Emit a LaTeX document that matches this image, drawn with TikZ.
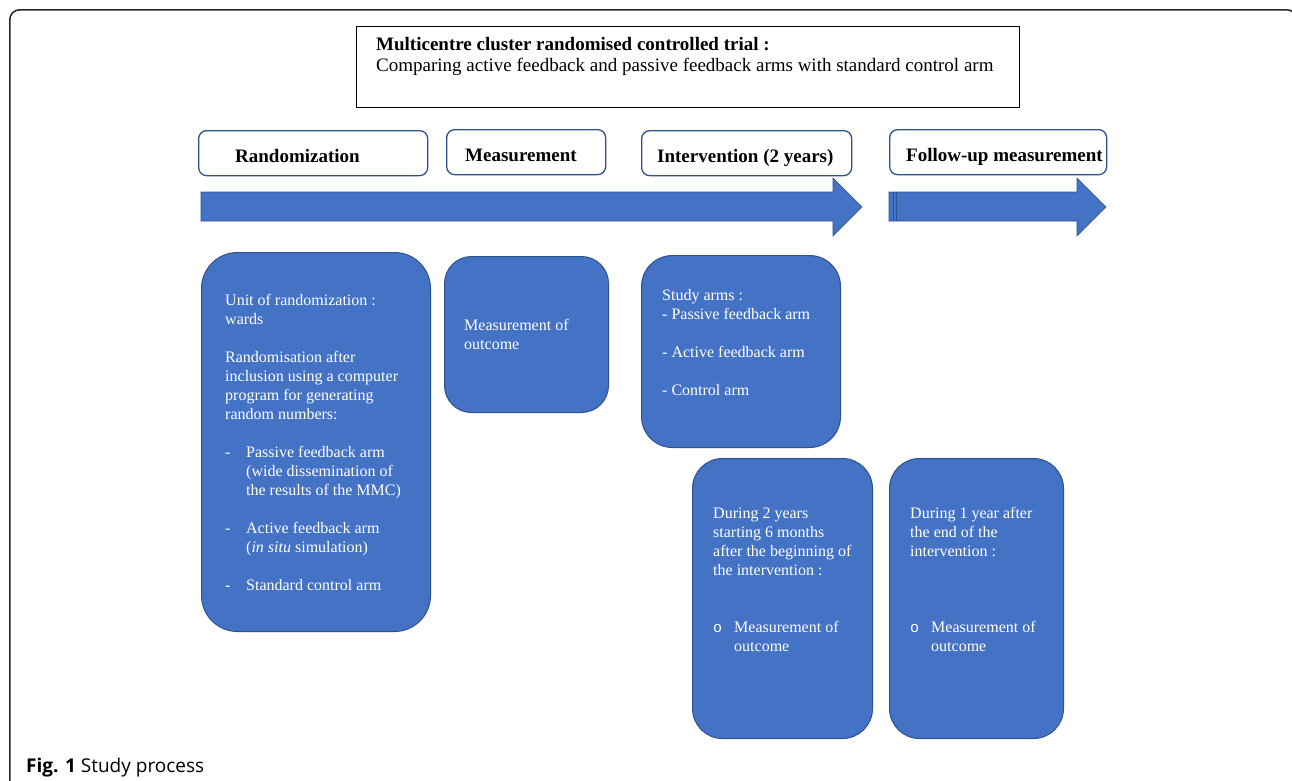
\documentclass[tikz,border=0pt]{standalone}
\usepackage{fontspec}
\setmainfont{Liberation Serif}
\newfontfamily\capfont{Open Sans}
\newfontfamily\monofnt{Liberation Mono}
\definecolor{officeblue}{HTML}{4472C4}
\definecolor{edgeblue}{HTML}{2F528F}
\newcommand{\circbullet}{\makebox[21pt][l]{{\monofnt\fontsize{15}{19}\selectfont o}}}
\begin{document}
\begin{tikzpicture}[x=1pt,y=-1pt,
  bluebox/.style={draw=edgeblue, line width=1pt, fill=officeblue, anchor=north west, inner sep=0pt},
  headbox/.style={draw=edgeblue, line width=1.3pt, fill=white, rounded corners=8pt, anchor=north west, inner sep=0pt},
  headtext/.style={anchor=base west, inner sep=0pt, font=\fontsize{19}{22}\selectfont\bfseries},
  bodytext/.style={anchor=base west, inner sep=0pt, text=white, font=\fontsize{16}{19}\selectfont},
  arrowshape/.style={fill=officeblue, draw=edgeblue, line width=0.6pt, line join=miter}
]
\useasboundingbox (0,0) rectangle (1292,780);
\clip (0,0) rectangle (1292,780);
\fill[white] (0,0) rectangle (1292,780);

% outer frame
\node[draw=black!85, line width=1.5pt, rounded corners=10pt, anchor=north west, inner sep=0pt,
      minimum width=1287pt, minimum height=820pt] (frame) at (9,9) {};

% title box
\node[draw=black, line width=1.2pt, anchor=north west, inner sep=0pt,
      minimum width=663pt, minimum height=81pt] (title) at (356,26) {};
\node[anchor=base west, inner sep=0pt, font=\fontsize{19}{21}\selectfont] (titletext) at (376,50)
  {\parbox[t]{640pt}{\raggedright\textbf{Multicentre cluster randomised controlled trial :}\\
   Comparing active feedback and passive feedback arms with standard control arm}};

% header boxes
\node[headbox, minimum width=229pt, minimum height=45pt] (hRand) at (198,130) {};
\node[headbox, minimum width=159pt, minimum height=45pt] (hMeas) at (446,129) {};
\node[headbox, minimum width=210pt, minimum height=45pt] (hInt) at (641,130) {};
\node[headbox, minimum width=217pt, minimum height=45pt] (hFol) at (889,129) {};
\node[headtext] (hRandT) at (235,162) {Randomization};
\node[headtext] (hMeasT) at (465,161) {Measurement};
\node[headtext] (hIntT) at (657,162) {Intervention (2 years)};
\node[headtext] (hFolT) at (906,161) {Follow-up measurement};

% arrows
\draw[arrowshape] (201,192) -- (833,192) -- (833,178) -- (862,207) -- (833,236) -- (833,221) -- (201,221) -- cycle;
\draw[arrowshape] (889,192) -- (1077,192) -- (1077,178) -- (1106,207) -- (1077,236) -- (1077,221) -- (889,221) -- cycle;
\draw[edgeblue, line width=0.8pt] (893,192) -- (893,221);
\draw[edgeblue, line width=0.8pt] (896.5,192) -- (896.5,221);

% blue boxes
\node[bluebox, rounded corners=36pt, minimum width=229pt, minimum height=379pt] (bRand) at (201,252) {};
\node[bluebox, rounded corners=27pt, minimum width=164pt, minimum height=156pt] (bMeas) at (444,256) {};
\node[bluebox, rounded corners=31pt, minimum width=199pt, minimum height=192pt] (bInt) at (641,255) {};
\node[bluebox, rounded corners=30pt, minimum width=180pt, minimum height=280pt] (bDur) at (692,458) {};
\node[bluebox, rounded corners=30pt, minimum width=174pt, minimum height=280pt] (bFol) at (889,458) {};

% texts in blue boxes
\node[bodytext] (tRand) at (225,305) {\parbox[t]{200pt}{\raggedright
Unit of randomization :\\
wards\\[19pt]
Randomisation after\\
inclusion using a computer\\
program for generating\\
random numbers:\\[19pt]
\makebox[21pt][l]{-}Passive feedback arm\\
\hspace*{21pt}(wide dissemination of\\
\hspace*{21pt}the results of the MMC)\\[19pt]
\makebox[21pt][l]{-}Active feedback arm\\
\hspace*{21pt}(\textit{in situ} simulation)\\[19pt]
\makebox[21pt][l]{-}Standard control arm}};

\node[bodytext] (tMeas) at (464,330) {\parbox[t]{140pt}{\raggedright
Measurement of\\
outcome}};

\node[bodytext] (tInt) at (662,300) {\parbox[t]{170pt}{\raggedright
Study arms :\\
- Passive feedback arm\\[19pt]
- Active feedback arm\\[19pt]
- Control arm}};

\node[bodytext] (tDur) at (713,518) {\parbox[t]{155pt}{\raggedright
During 2 years\\
starting 6 months\\
after the beginning of\\
the intervention :\\[38pt]
\circbullet Measurement of\\
\hspace*{21pt}outcome}};

\node[bodytext] (tFol) at (910,518) {\parbox[t]{150pt}{\raggedright
During 1 year after\\
the end of the\\
intervention :\\[57pt]
\circbullet Measurement of\\
\hspace*{21pt}outcome}};

% caption
\node[anchor=base west, inner sep=0pt, font=\capfont\fontsize{19}{22}\selectfont] (cap) at (26,772)
  {\textbf{Fig. 1} Study process};
\end{tikzpicture}
\end{document}
